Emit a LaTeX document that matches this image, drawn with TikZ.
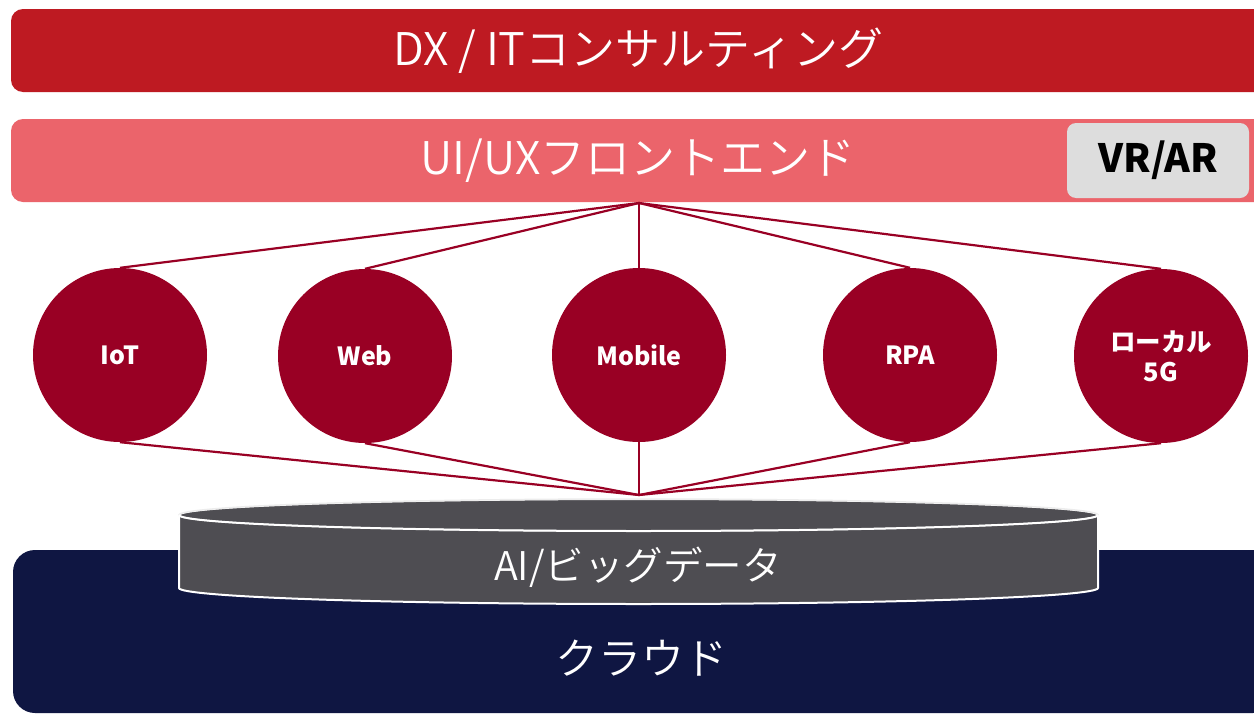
\documentclass[tikz,border=0pt]{standalone}
\usepackage{fontspec}
\setmainfont{Noto Sans CJK JP}
\IfFontExistsTF{Noto Sans CJK JP DemiLight}
  {\newfontfamily\lightfont{Noto Sans CJK JP DemiLight}}
  {\IfFontExistsTF{Noto Sans CJK JP Light}
     {\newfontfamily\lightfont{Noto Sans CJK JP Light}}
     {\newfontfamily\lightfont{Noto Sans CJK JP}}}
\definecolor{topred}{RGB}{190,26,34}
\definecolor{pinkbar}{RGB}{235,100,107}
\definecolor{wine}{RGB}{153,0,36}
\definecolor{cylgray}{RGB}{78,77,82}
\definecolor{navy}{RGB}{15,22,66}
\definecolor{lightgray}{RGB}{221,221,221}
\tikzset{
  bubble/.style={circle, fill=wine, minimum size=174pt, inner sep=0pt, text=white, font=\fontsize{25}{29}\selectfont\bfseries, align=center},
  link/.style={draw=wine, line width=2.2pt},
  bigtext/.style={text=white, font=\lightfont\fontsize{45}{50}\selectfont, inner sep=0pt},
}
\begin{document}
\begin{tikzpicture}[x=1pt, y=-1pt]
\clip (0,0) rectangle (1254,715);
\fill[white] (0,0) rectangle (1254,715);
% bars
\fill[topred, rounded corners=12pt] (11,9) rectangle (1280,92);
\node[bigtext] (dx) at (638,51) {DX / ITコンサルティング};
\fill[pinkbar, rounded corners=12pt] (11,119) rectangle (1280,202);
\node[bigtext] (ui) at (638,161) {UI/UXフロントエンド};
\node[fill=lightgray, rounded corners=9pt, minimum width=182pt, minimum height=75pt, inner sep=0pt, font=\fontsize{39}{43}\selectfont\bfseries] (vr) at (1158,160.5) {VR/AR};
% cloud
\fill[navy, rounded corners=22pt] (13,550) rectangle (1275,713);
\node[text=white, font=\lightfont\fontsize{43}{48}\selectfont, inner sep=0pt] (cloud) at (641,658) {クラウド};
% connectors
\coordinate (apex) at (639,203);
\coordinate (base) at (639,495);
\node[bubble] (iot) at (120,355) {IoT};
\node[bubble] (web) at (365,356) {Web};
\node[bubble] (mob) at (639,355) {Mobile};
\node[bubble] (rpa) at (910,355) {RPA};
\node[bubble, font=\fontsize{25.5}{30}\selectfont\bfseries] (g5) at (1161,356) {ローカル\\5G};
\foreach \n in {iot,web,mob,rpa,g5}{
  \draw[link] (apex) -- (\n.north);
  \draw[link] (\n.south) -- (base);
}
% cylinder
\filldraw[fill=cylgray, draw=white, line width=2pt]
  (179,515) -- (179,588) arc[start angle=180, end angle=360, x radius=459.5pt, y radius=16pt]
  -- (1098,515) arc[start angle=0, end angle=180, x radius=459.5pt, y radius=16pt] -- cycle;
\draw[white!85!gray, line width=1.5pt] (638.5,515) ellipse[x radius=459.5pt, y radius=16pt];
\draw[white, line width=2pt] (179,515) arc[start angle=180, end angle=360, x radius=459.5pt, y radius=16pt];
\node[text=white, font=\lightfont\fontsize{39.5}{44}\selectfont, inner sep=0pt] (ai) at (638,567) {AI/ビッグデータ};
\end{tikzpicture}
\end{document}
